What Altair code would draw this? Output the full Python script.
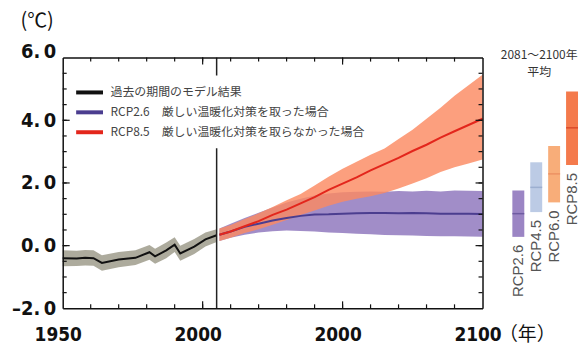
import altair as alt
import pandas as pd

# ---------------- data ----------------
hist_years = [1950, 1955, 1958, 1961, 1964, 1970, 1976, 1981, 1983, 1987, 1990, 1992, 1997, 2001, 2005]
hist_mean = [-0.40, -0.41, -0.39, -0.40, -0.55, -0.44, -0.39, -0.21, -0.34, -0.15, 0.03, -0.25, -0.03, 0.20, 0.33]
hist_lo = [-0.66, -0.65, -0.63, -0.64, -0.80, -0.69, -0.62, -0.45, -0.58, -0.40, -0.20, -0.48, -0.27, -0.03, 0.12]
hist_hi = [-0.15, -0.16, -0.14, -0.15, -0.31, -0.20, -0.15, 0.02, -0.10, 0.10, 0.27, 0.00, 0.21, 0.42, 0.52]

fut_years = [2006, 2010, 2015, 2020, 2025, 2030, 2035, 2040, 2045, 2050,
             2055, 2060, 2065, 2070, 2075, 2080, 2085, 2090, 2095, 2100]
rcp85_mean = [0.35, 0.45, 0.62, 0.78, 0.98, 1.15, 1.35, 1.55, 1.78, 1.98,
              2.18, 2.40, 2.60, 2.80, 3.02, 3.22, 3.45, 3.65, 3.85, 4.05]
rcp85_lo = [0.15, 0.25, 0.40, 0.52, 0.67, 0.82, 0.98, 1.12, 1.27, 1.40,
            1.50, 1.58, 1.68, 1.82, 1.98, 2.15, 2.35, 2.50, 2.62, 2.75]
rcp85_hi = [0.55, 0.66, 0.85, 1.03, 1.23, 1.45, 1.65, 1.92, 2.20, 2.45,
            2.68, 2.90, 3.10, 3.40, 3.70, 4.05, 4.40, 4.78, 5.12, 5.45]
rcp26_mean = [0.35, 0.45, 0.60, 0.70, 0.80, 0.88, 0.95, 0.99, 1.00, 1.02,
              1.03, 1.04, 1.04, 1.03, 1.04, 1.03, 1.02, 1.02, 1.02, 1.01]
rcp26_lo = [0.15, 0.25, 0.35, 0.42, 0.46, 0.48, 0.47, 0.45, 0.42, 0.40,
            0.38, 0.36, 0.34, 0.33, 0.32, 0.31, 0.30, 0.30, 0.29, 0.28]
rcp26_hi = [0.55, 0.70, 0.88, 1.05, 1.22, 1.38, 1.50, 1.60, 1.66, 1.70,
            1.72, 1.73, 1.72, 1.74, 1.73, 1.75, 1.73, 1.76, 1.75, 1.74]

split_year = [2005]

series_names = ["過去の期間のモデル結果",
                "RCP2.6\u3000厳しい温暖化対策を取った場合",
                "RCP8.5\u3000厳しい温暖化対策を取らなかった場合"]
line_colors = ["#111111", "#4b3d8f", "#e3261c"]

bar_cats = ["RCP2.6", "RCP4.5", "RCP6.0", "RCP8.5"]
bar_lo = [0.28, 1.07, 1.38, 2.57]
bar_hi = [1.76, 2.66, 3.18, 4.92]
bar_mean = [1.02, 1.86, 2.29, 3.76]
bar_colors = ["#9b85c4", "#bccbe5", "#f8ad79", "#f47a4c"]
bar_mean_colors = ["#5b4993", "#8ea3c8", "#e8865a", "#d2381e"]

x_domain = [1950, 2100]
y_domain = [-2, 6]
y_ticks = [-2, 0, 2, 4, 6]
y_tick_labels = ["–2.\u20090", "0.\u20090", "2.\u20090", "4.\u20090", "6.\u20090"]
x_ticks = [1950, 2000, 2050, 2100]
x_tick_labels = ["1950", "2000", "2000", "2100"]
# inner tick marks along the frame
x_minor = [1960, 1970, 1980, 1990, 2000, 2010, 2020, 2030, 2040, 2050, 2060, 2070, 2080, 2090]
x_major = [2000, 2050]
y_minor = [-1.5, -1, -0.5, 0, 0.5, 1, 1.5, 2, 2.5, 3, 3.5, 4, 4.5, 5, 5.5]
y_major = [0, 2, 4]

# ---------------- helpers ----------------
CJK = "Noto Sans CJK JP"
NUM = "DejaVu Sans Condensed, DejaVu Sans, sans-serif"
FRAME = "#111111"

xs = alt.Scale(domain=x_domain, nice=False, zero=False)
ys = alt.Scale(domain=y_domain, nice=False, zero=False)


def label_expr(vals, labels):
    parts = [f"datum.value == {v} ? '{l}'" for v, l in zip(vals, labels)]
    return " : ".join(parts) + " : ''"


def edge_axis(orient):
    return alt.Axis(orient=orient, ticks=False, labels=False, grid=False, title=None,
                    domain=True, domainColor=FRAME, domainWidth=1.5, zindex=2)


def edge_ticks(positions, side, length):
    """Short inward tick marks drawn on one side of the frame."""
    half = length / 2
    if side in ("bottom", "top"):
        edge = y_domain[0] if side == "bottom" else y_domain[1]
        df = pd.DataFrame({"pos": positions, "edge": edge})
        return alt.Chart(df).mark_tick(orient="vertical", size=length, thickness=1.2, color=FRAME,
                                       opacity=1, yOffset=-half if side == "bottom" else half).encode(
            x=alt.X("pos:Q", scale=xs, axis=None), y=alt.Y("edge:Q", scale=ys, axis=None))
    edge = x_domain[0] if side == "left" else x_domain[1]
    df = pd.DataFrame({"pos": positions, "edge": edge})
    return alt.Chart(df).mark_tick(orient="horizontal", size=length, thickness=1.2, color=FRAME,
                                   opacity=1, xOffset=half if side == "left" else -half).encode(
        x=alt.X("edge:Q", scale=xs, axis=None), y=alt.Y("pos:Q", scale=ys, axis=None))


hist_df = pd.DataFrame({"year": hist_years, "mean": hist_mean, "lo": hist_lo, "hi": hist_hi,
                        "series": series_names[0]})
r26_df = pd.DataFrame({"year": fut_years, "mean": rcp26_mean, "lo": rcp26_lo, "hi": rcp26_hi,
                       "series": series_names[1]})
r85_df = pd.DataFrame({"year": fut_years, "mean": rcp85_mean, "lo": rcp85_lo, "hi": rcp85_hi,
                       "series": series_names[2]})
split_df = pd.DataFrame({"year": split_year})

ax_x_labels = alt.Axis(orient="bottom", values=x_ticks,
                       labelExpr=label_expr(x_ticks, x_tick_labels), ticks=False,
                       domain=True, domainColor=FRAME, domainWidth=1.5, grid=False,
                       labelFont=NUM, labelFontSize=19, labelBaseline="middle",
                       labelFontWeight="bold", labelColor="#111111", labelPadding=26, labelFlush=False,
                       labelOffset=-5, title="（年）", titleFont=CJK, titleFontSize=19,
                       titleFontWeight="normal", titleColor="#111111", titleX=438, titleY=26,
                       titleAlign="left", titleBaseline="middle", zindex=2)
ax_y_labels = alt.Axis(orient="left", values=y_ticks,
                       labelExpr=label_expr(y_ticks, y_tick_labels), ticks=False,
                       domain=True, domainColor=FRAME, domainWidth=1.5, grid=False,
                       labelFont=NUM, labelFontSize=20,
                       labelFontWeight="bold", labelColor="#111111", labelPadding=7,
                       labelOffset={"condition": {"test": "datum.value == 6", "value": -6}, "value": 0},
                       title="(℃)", titleAngle=0, titleX=-43, titleY=-37, titleAlign="left",
                       titleBaseline="middle", titleFont=CJK, titleFontSize=20,
                       titleFontWeight="normal", titleColor="#111111", zindex=2)

legend = alt.Legend(title=None, orient="none", legendX=10, legendY=18,
                    symbolType="M-2,0H2", symbolSize=182, symbolStrokeWidth=4,
                    labelFont=CJK, labelFontSize=12, labelColor="#444444", labelLimit=400,
                    rowPadding=3, padding=8, fillColor="white", labelOffset=12)
color_enc = alt.Color("series:N", scale=alt.Scale(domain=series_names, range=line_colors),
                      legend=legend)

hist_band = alt.Chart(hist_df).mark_area(color="#a9a698", opacity=0.95).encode(
    x=alt.X("year:Q", scale=xs, axis=ax_x_labels),
    y=alt.Y("lo:Q", scale=ys, axis=ax_y_labels),
    y2="hi:Q")
p_band = alt.Chart(r26_df).mark_area(color="#9c87c5", opacity=0.95).encode(
    x=alt.X("year:Q", scale=xs, axis=None),
    y=alt.Y("lo:Q", scale=ys, axis=None),
    y2="hi:Q")
o_band = alt.Chart(r85_df).mark_area(color="#fb8a62", opacity=0.82).encode(
    x=alt.X("year:Q", scale=xs, axis=None),
    y=alt.Y("lo:Q", scale=ys, axis=None),
    y2="hi:Q")
hist_line = alt.Chart(hist_df).mark_line(strokeWidth=2).encode(
    x=alt.X("year:Q", scale=xs, axis=None),
    y=alt.Y("mean:Q", scale=ys, axis=None),
    color=color_enc)
r26_line = alt.Chart(r26_df).mark_line(strokeWidth=2).encode(
    x=alt.X("year:Q", scale=xs, axis=None),
    y=alt.Y("mean:Q", scale=ys, axis=None),
    color=color_enc)
r85_line = alt.Chart(r85_df).mark_line(strokeWidth=2).encode(
    x=alt.X("year:Q", scale=xs, axis=edge_axis("top")),
    y=alt.Y("mean:Q", scale=ys, axis=edge_axis("right")),
    color=color_enc)
split_rule = alt.Chart(split_df).mark_rule(color="#222222", strokeWidth=1.5).encode(
    x=alt.X("year:Q", scale=xs, axis=None))

tick_layers = [
    edge_ticks(x_minor, "bottom", 4), edge_ticks(x_major, "bottom", 7),
    edge_ticks(x_minor, "top", 4), edge_ticks(x_major, "top", 7),
    edge_ticks(y_minor, "left", 4), edge_ticks(y_major, "left", 7),
    edge_ticks(y_minor, "right", 4), edge_ticks(y_major, "right", 7),
]

main = alt.layer(hist_band, p_band, o_band, hist_line, r26_line, r85_line, split_rule,
                 *tick_layers).resolve_scale(
    x="independent", y="independent").resolve_axis(
    x="independent", y="independent").properties(width=422, height=252)

# ---------------- right panel ----------------
bars_df = pd.DataFrame({"cat": bar_cats, "lo": bar_lo, "hi": bar_hi, "mean": bar_mean})
xb = alt.X("cat:N", scale=alt.Scale(domain=bar_cats, paddingInner=1 / 3, paddingOuter=0),
           axis=None, sort=bar_cats)
bars = alt.Chart(bars_df).mark_bar().encode(
    x=xb, y=alt.Y("lo:Q", scale=ys, axis=None), y2="hi:Q",
    color=alt.Color("cat:N", scale=alt.Scale(domain=bar_cats, range=bar_colors), legend=None))
means = alt.Chart(bars_df).mark_tick(thickness=1.5, size=12).encode(
    x=xb, y=alt.Y("mean:Q", scale=ys, axis=None),
    color=alt.Color("cat:N", scale=alt.Scale(domain=bar_cats, range=bar_mean_colors), legend=None))
blabels = alt.Chart(bars_df).mark_text(angle=270, align="right", baseline="middle", dx=-8,
                                       font="Liberation Sans", fontSize=15, color="#555555").encode(
    x=xb, y=alt.Y("lo:Q", scale=ys, axis=None), text="cat:N")

right = alt.layer(bars, means, blabels).resolve_scale(color="independent").properties(
    width=66, height=252,
    title=alt.TitleParams(text=["2081～2100年", "平均"], font=CJK, fontSize=12,
                          fontWeight="normal", color="#333333", offset=-21, dx=-6,
                          lineHeight=17, anchor="middle"))

chart = alt.hconcat(main, right, spacing=30, bounds="flush").properties(
    padding={"left": 3, "top": 2, "right": 0, "bottom": 0}
).configure_view(strokeWidth=0)

chart.save("out.html", embed_options={"renderer": "svg", "actions": False})
